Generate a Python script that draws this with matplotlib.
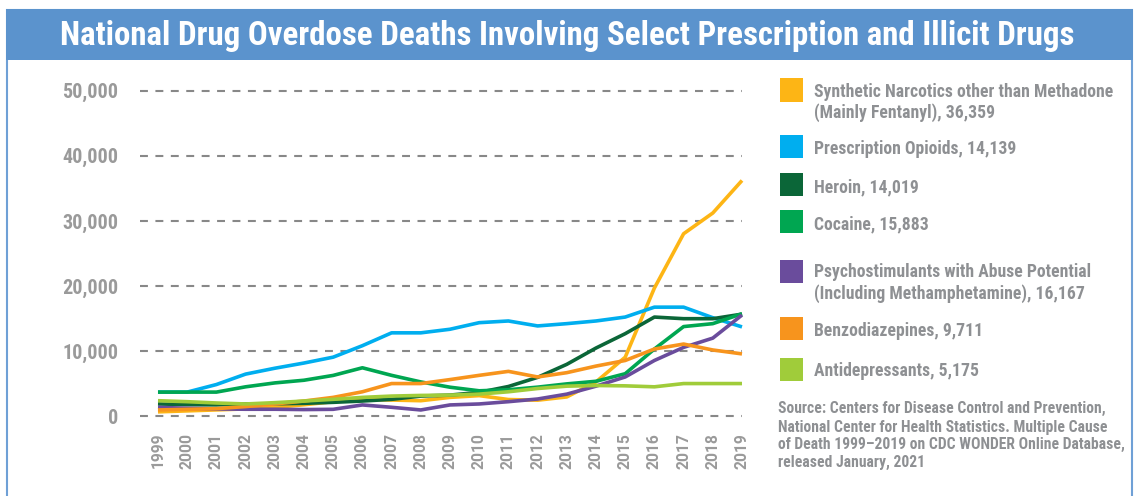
import matplotlib
matplotlib.use("Agg")
import matplotlib.pyplot as plt
import matplotlib.font_manager as fm
from matplotlib.patches import Rectangle

# ---------------- data ----------------
years = list(range(1999, 2020))
synthetic = [710, 860, 1010, 1160, 1400, 1800, 2270, 2630, 2520, 2420, 2930, 3200, 2600,
             2500, 3000, 5300, 9090, 19700, 28030, 31210, 36200]
opioids = [3740, 3740, 4900, 6500, 7400, 8200, 9100, 10860, 12830, 12830, 13380, 14390,
           14650, 13890, 14240, 14650, 15250, 16770, 16770, 15150, 13740]
heroin = [1920, 1820, 1780, 1900, 1950, 2020, 2170, 2370, 2630, 3130, 3280, 3700, 4600,
          6000, 8000, 10500, 12700, 15250, 15000, 15000, 15700]
cocaine = [3740, 3740, 3740, 4550, 5150, 5560, 6300, 7470, 6310, 5300, 4490, 3940, 4100,
           4500, 5000, 5400, 6560, 10350, 13790, 14240, 15760]
psycho = [1400, 1260, 1160, 1110, 1110, 1060, 1100, 1770, 1410, 1000, 1770, 1920, 2270,
          2680, 3430, 4650, 6060, 8590, 10600, 12020, 15560]
benzo = [1000, 1100, 1200, 1520, 1920, 2370, 2930, 3790, 5050, 5050, 5660, 6310, 6920,
         6060, 6720, 7730, 8590, 10350, 11110, 10200, 9600]
antidep = [2420, 2270, 2070, 1920, 2120, 2370, 2630, 2930, 3130, 3230, 3280, 3430, 3790,
           4290, 4650, 4750, 4700, 4550, 5050, 5050, 5050]

series_labels = [
    ["Synthetic Narcotics other than Methadone", "(Mainly Fentanyl), 36,359"],
    ["Prescription Opioids, 14,139"],
    ["Heroin, 14,019"],
    ["Cocaine, 15,883"],
    ["Psychostimulants with Abuse Potential", "(Including Methamphetamine), 16,167"],
    ["Benzodiazepines, 9,711"],
    ["Antidepressants, 5,175"],
]
series_values = [synthetic, opioids, heroin, cocaine, psycho, benzo, antidep]
colors = ["#FDB515", "#00AEEF", "#0B6638", "#00A651", "#6A4C9C", "#F7941D", "#A0CC3A"]
yticks = [0, 10000, 20000, 30000, 40000, 50000]
ytick_labels = ["0", "10,000", "20,000", "30,000", "40,000", "50,000"]
title = "National Drug Overdose Deaths Involving Select Prescription and Illicit Drugs"
source_lines = ["Source: Centers for Disease Control and Prevention,",
                "National Center for Health Statistics. Multiple Cause",
                "of Death 1999\u20132019 on CDC WONDER Online Database,",
                "released January, 2021"]

# ---------------- fonts ----------------
names = {f.name for f in fm.fontManager.ttflist}
FONT = "DejaVu Sans"
for cand in ["Roboto Condensed", "Liberation Sans Narrow", "Open Sans Condensed", "Roboto"]:
    if cand in names:
        FONT = cand
        break
WIDEFONT = "Roboto" if "Roboto" in names else "DejaVu Sans"
plt.rcParams["font.family"] = [FONT, "DejaVu Sans"]
plt.rcParams["font.weight"] = "bold"

W, H = 1139, 496
fig = plt.figure(figsize=(W / 100, H / 100), dpi=100)
fig.patch.set_facecolor("white")

def fx(x):
    return x / W

def fy(y):
    return 1 - y / H

BLUE = "#5B93CD"
TXT = "#8E9093"

# frame and title bar
fig.patches.append(Rectangle((fx(7), fy(520)), fx(1132) - fx(7), fy(10) - fy(520),
                             transform=fig.transFigure, fill=False, edgecolor="#6FA0D6",
                             linewidth=1.5, zorder=0))
fig.patches.append(Rectangle((fx(6), fy(60)), fx(1133) - fx(6), fy(9.3) - fy(60),
                             transform=fig.transFigure, facecolor=BLUE, edgecolor="none",
                             zorder=1))

renderer = fig.canvas.get_renderer()

def fit(t, target):
    for _ in range(3):
        bb = t.get_window_extent(renderer=renderer)
        t.set_fontsize(t.get_fontsize() * target / bb.width)

# title
t_title = fig.text(fx(567), fy(45), title, ha="center", va="baseline", color="white",
                   fontsize=20, fontweight="bold", zorder=2)
fit(t_title, 1010)

# ---------------- axes ----------------
ax = fig.add_axes([140 / W, 73 / H, 602 / W, 339 / H])
ax.set_xlim(1998.384, 2019.0)
ax.set_ylim(-1000, 51000)
for s in ax.spines.values():
    s.set_visible(False)
ax.set_facecolor("none")

for v in yticks:
    ax.axhline(v, color="#888888", linewidth=1.5, linestyle=(0, (3.8, 3.6)), zorder=1)

for vals, c in zip(series_values, colors):
    ax.plot(years, vals, color=c, linewidth=2.6, solid_joinstyle="round",
            solid_capstyle="butt", clip_on=False, zorder=3)

# tick label sizes (fit to measured widths)
tmp = fig.text(0, 0, "50,000", fontsize=12, fontweight="bold")
fit(tmp, 56)
ysize = tmp.get_fontsize()
tmp.set_text("2000")
tmp.set_family([WIDEFONT, "DejaVu Sans"])
fit(tmp, 36)
xsize = tmp.get_fontsize()
tmp.remove()

ax.set_yticks(yticks)
ax.set_yticklabels(ytick_labels, fontsize=ysize, color="#9A9A9A", fontweight="bold")
ax.set_xticks(years)
ax.set_xticklabels([str(y) for y in years], rotation=90, fontsize=xsize,
                   color="#9A9A9A", fontweight="bold", family=[WIDEFONT, "DejaVu Sans"])
ax.tick_params(axis="y", length=0, pad=15.8)
ax.tick_params(axis="x", length=0, pad=7.2)

# ---------------- legend ----------------
sq_tops = [78.3, 135, 172.7, 210, 260, 316.7, 357.7]
baselines = [[96.7, 118.3], [154.3], [192.7], [229.3], [277.3, 299], [336], [376]]
legend_texts = []
for lines, c, top, bls in zip(series_labels, colors, sq_tops, baselines):
    fig.patches.append(Rectangle((fx(780), fy(top + 23.3)), 23.3 / W, 23.3 / H,
                                 transform=fig.transFigure, facecolor=c,
                                 edgecolor="none"))
    for ln, bl in zip(lines, bls):
        legend_texts.append(fig.text(fx(814), fy(bl), ln, ha="left", va="baseline",
                                     color=TXT, fontsize=12, fontweight="bold"))
fit(legend_texts[0], 299)
for t in legend_texts[1:]:
    t.set_fontsize(legend_texts[0].get_fontsize())

# ---------------- source ----------------
src_baselines = [413.3, 431.7, 449.3, 466.7]
src_texts = []
for ln, bl in zip(source_lines, src_baselines):
    src_texts.append(fig.text(fx(778), fy(bl), ln, ha="left", va="baseline", color=TXT,
                              fontsize=10, fontweight="bold"))
fit(src_texts[2], 346)
for t in src_texts:
    t.set_fontsize(src_texts[2].get_fontsize())

fig.savefig("out.png", dpi=100)
